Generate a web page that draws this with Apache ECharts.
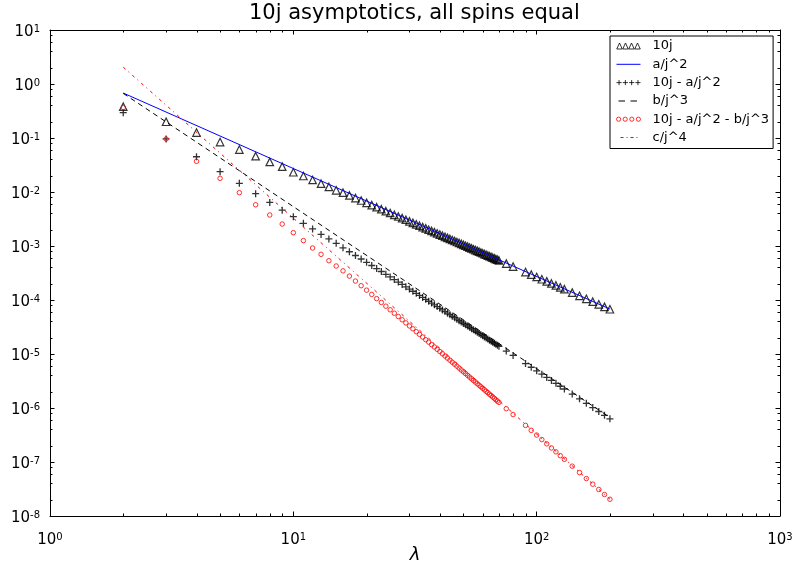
<!DOCTYPE html>
<html><head><meta charset="utf-8">
<script src="https://cdn.jsdelivr.net/npm/echarts@6/dist/echarts.min.js"></script>
<style>html,body{margin:0;padding:0;background:#fff}#c{width:795px;height:562px}</style>
</head><body><div id="c"></div>
<script>
// ---- data ----
const jVals = [2,3,4,5,6,7,8,9,10,11,12,13,14,15,16,17,18,19,20,21,22,23,24,25,26,27,28,29,30,
  31,32,33,34,35,36,37,38,39,40,41,42,43,44,45,46,47,48,49,50,51,52,53,54,55,56,57,58,59,60,
  61,62,63,64,65,66,67,68,69,70,75,80,90,95,100,105,110,115,120,125,130,140,150,160,170,180,190,200];

const tenJ = [0.38,0.20,0.126,0.084,0.061,0.046,0.036,0.0295,0.0232,0.0198,0.0167,0.01426,0.0124,0.01075,
  0.0097,0.00863,0.00773,0.00696,0.0063,0.00573,0.00524,0.0048,0.00442,0.00409,0.00378,0.00352,0.00328,0.00306,0.00286,
  0.00269,0.00252,0.00238,0.00224,0.00212,0.0020,0.0019,0.0018,0.00171,0.00163,
  1.553e-3,1.481e-3,1.414e-3,1.352e-3,1.293e-3,1.238e-3,1.187e-3,1.139e-3,1.094e-3,1.051e-3,
  1.011e-3,9.73e-4,9.37e-4,9.03e-4,8.71e-4,8.41e-4,8.12e-4,7.85e-4,7.59e-4,7.34e-4,
  7.10e-4,6.88e-4,6.66e-4,6.46e-4,6.27e-4,6.08e-4,5.90e-4,5.73e-4,5.57e-4,5.41e-4,
  4.72e-4,4.16e-4,3.29e-4,2.96e-4,2.67e-4,2.425e-4,2.211e-4,2.025e-4,1.86e-4,1.716e-4,1.587e-4,
  1.37e-4,1.194e-4,1.05e-4,9.31e-5,8.31e-5,7.46e-5,6.74e-5];

const tenJminusA = [0.294,0.096,0.045,0.0238,0.0145,0.0093,0.0064,0.0046,0.00349,0.00263,0.00207,0.00164,0.00135,0.00112,
  9.24e-4,7.82e-4,6.67e-4,5.75e-4,4.98e-4,4.35e-4,3.82e-4,3.37e-4,2.99e-4,2.67e-4,2.39e-4,2.15e-4,1.94e-4,1.755e-4,1.595e-4,
  1.453e-4,1.328e-4,1.216e-4,1.117e-4,1.028e-4,9.49e-5,8.77e-5,8.13e-5,7.55e-5,7.02e-5,
  6.54e-5,6.10e-5,5.70e-5,5.34e-5,5.00e-5,4.70e-5,4.41e-5,4.15e-5,3.91e-5,3.69e-5,
  3.49e-5,3.30e-5,3.12e-5,2.95e-5,2.80e-5,2.66e-5,2.53e-5,2.40e-5,2.28e-5,2.18e-5,
  2.07e-5,1.98e-5,1.89e-5,1.80e-5,1.72e-5,1.65e-5,1.58e-5,1.51e-5,1.45e-5,1.39e-5,
  1.135e-5,9.4e-6,6.66e-6,5.68e-6,4.885e-6,4.23e-6,3.69e-6,3.24e-6,2.86e-6,2.53e-6,2.25e-6,
  1.81e-6,1.477e-6,1.22e-6,1.019e-6,8.61e-7,7.33e-7,6.30e-7];

const tenJminusAB = [0.365,0.096,0.037,0.0179,0.0097,0.0058,0.00375,0.00255,0.001765,0.00126,9.18e-4,7.01e-4,5.34e-4,4.26e-4,
  3.46e-4,2.77e-4,2.24e-4,1.84e-4,1.52e-4,1.27e-4,1.06e-4,9.01e-5,7.69e-5,6.59e-5,5.69e-5,4.94e-5,4.30e-5,3.77e-5,3.31e-5,
  2.93e-5,2.59e-5,2.31e-5,2.06e-5,1.84e-5,1.66e-5,1.49e-5,1.35e-5,1.22e-5,1.11e-5,
  1.01e-5,9.18e-6,8.39e-6,7.68e-6,7.04e-6,6.47e-6,5.95e-6,5.49e-6,5.07e-6,4.69e-6,
  4.34e-6,4.03e-6,3.74e-6,3.48e-6,3.24e-6,3.03e-6,2.82e-6,2.64e-6,2.47e-6,2.32e-6,
  2.17e-6,2.04e-6,1.92e-6,1.80e-6,1.70e-6,1.60e-6,1.51e-6,1.42e-6,1.34e-6,1.27e-6,
  9.71e-7,7.55e-7,4.76e-7,3.85e-7,3.15e-7,2.60e-7,2.17e-7,1.82e-7,1.54e-7,1.31e-7,1.12e-7,
  8.37e-8,6.38e-8,4.94e-8,3.89e-8,3.10e-8,2.50e-8,2.04e-8];

// fitted asymptotic lines (end points)
const lineJ = [2, 200];
const aOverJ2 = [0.68, 6.8e-5];
const bOverJ3 = [0.67, 6.7e-7];
const cOverJ4 = [2.05, 2.05e-8];

// axes
const X_MIN = 1, X_MAX = 1000, Y_MIN = 1e-8, Y_MAX = 10;
const xDecades = [1, 10, 100];
const xMinorSubs = [2,3,4,5,6,7,8,9];
const yDecades = [1e-8,1e-7,1e-6,1e-5,1e-4,1e-3,1e-2,1e-1,1];
const yMinorSubs = [2,4,6,8];

const seriesNames = ['10j','a/j^2','10j - a/j^2','b/j^3','10j - a/j^2 - b/j^3','c/j^4'];

// ---- build ----
const pairs = (xs, ys) => xs.map((x, i) => [x, ys[i]]);
const minorData = [];
xDecades.forEach(d => xMinorSubs.forEach(s => minorData.push([s * d, 1, 0])));
yDecades.forEach(d => yMinorSubs.forEach(s => minorData.push([2, s * d, 1])));

const FONT = 'DejaVu Sans';
const supRich = {
  b: {fontSize: 15, fontFamily: FONT, color: '#000', lineHeight: 16},
  s: {fontSize: 10, fontFamily: FONT, color: '#000', lineHeight: 10, verticalAlign: 'top'}
};
const powLabel = v => '{b|10}{s|' + Math.round(Math.log10(v)) + '}';

function renderMinor(params, api) {
  const kind = api.value(2);
  const L = 2.5;
  const st = {stroke: '#000', lineWidth: 1};
  if (kind === 0) {
    const xv = api.value(0);
    const b = api.coord([xv, Y_MIN]);
    const t = api.coord([xv, Y_MAX]);
    const x = Math.round(b[0]) + 0.5;
    return {type: 'group', children: [
      {type: 'line', shape: {x1: x, y1: b[1], x2: x, y2: b[1] - L}, style: st},
      {type: 'line', shape: {x1: x, y1: t[1], x2: x, y2: t[1] + L}, style: st}
    ]};
  } else {
    const yv = api.value(1);
    const l = api.coord([X_MIN, yv]);
    const r = api.coord([X_MAX, yv]);
    const y = Math.round(l[1]) + 0.5;
    return {type: 'group', children: [
      {type: 'line', shape: {x1: l[0], y1: y, x2: l[0] + L, y2: y}, style: st},
      {type: 'line', shape: {x1: r[0], y1: y, x2: r[0] - L, y2: y}, style: st}
    ]};
  }
}

const axisLineStyle = {show: true, onZero: false, lineStyle: {color: '#000', width: 1}};
const tickStyle = {show: true, inside: true, length: 4.5, lineStyle: {color: '#000', width: 1}};

const triIcon = 'path://M0,6L2.75,0L5.5,6ZM6,6L8.75,0L11.5,6ZM12,6L14.75,0L17.5,6ZM18,6L20.75,0L23.5,6Z';
const plusIcon = 'path://M0,3L5,3M2.5,0.5L2.5,5.5M6.2,3L11.2,3M8.7,0.5L8.7,5.5M12.4,3L17.4,3M14.9,0.5L14.9,5.5M18.6,3L23.6,3M21.1,0.5L21.1,5.5';
const circIcon = 'path://M1,3A2,2 0 1,0 5,3A2,2 0 1,0 1,3ZM7.3,3A2,2 0 1,0 11.3,3A2,2 0 1,0 7.3,3ZM13.6,3A2,2 0 1,0 17.6,3A2,2 0 1,0 13.6,3ZM19.9,3A2,2 0 1,0 23.9,3A2,2 0 1,0 19.9,3Z';
const solidIcon = 'path://M0,0L24,0L24,1L0,1Z';
const dashIcon = 'path://M0,0L0,0M2,0L8.5,0L8.5,1L2,1ZM14,0L20.5,0L20.5,1L14,1ZM24,1L24,1';
const dashDotIcon = 'path://M0,0L0,0M4,0L7,0L7,1L4,1ZM10,0L11,0L11,1L10,1ZM14,0L17,0L17,1L14,1ZM20,0L21,0L21,1L20,1ZM24,1L24,1';

const option = {
  animation: false,
  backgroundColor: '#fff',
  title: {
    text: '10j asymptotics, all spins equal',
    left: 249, top: 3, padding: 0,
    textStyle: {fontFamily: FONT, fontSize: 21, fontWeight: 'normal', color: '#000'}
  },
  grid: {left: 50, top: 30, width: 730, height: 486, containLabel: false, outerBoundsMode: 'none'},
  legend: {
    orient: 'vertical', left: 610, top: 36,
    padding: [3, 4, 4, 6], itemGap: 4.3,
    itemWidth: 24, itemHeight: 6,
    borderColor: '#000', borderWidth: 1, backgroundColor: '#fff',
    selectedMode: false,
    textStyle: {fontFamily: FONT, fontSize: 13, color: '#000', lineHeight: 14, padding: [0, 0, 0, 7]},
    data: [
      {name: seriesNames[0], icon: triIcon, itemStyle: {color: 'rgba(0,0,0,0)', borderColor: '#000', borderWidth: 1}},
      {name: seriesNames[1], icon: solidIcon, itemStyle: {color: '#0000ff', borderWidth: 0}},
      {name: seriesNames[2], icon: plusIcon, itemStyle: {color: 'rgba(0,0,0,0)', borderColor: '#000', borderWidth: 1}},
      {name: seriesNames[3], icon: dashIcon, itemStyle: {color: '#000', borderWidth: 0}},
      {name: seriesNames[4], icon: circIcon, itemStyle: {color: 'rgba(0,0,0,0)', borderColor: '#ff0000', borderWidth: 1}},
      {name: seriesNames[5], icon: dashDotIcon, itemStyle: {color: '#ff0000', borderWidth: 0}}
    ]
  },
  xAxis: [
    {type: 'log', logBase: 10, min: X_MIN, max: X_MAX, position: 'bottom',
     axisLine: axisLineStyle, axisTick: tickStyle, splitLine: {show: false},
     axisLabel: {formatter: powLabel, rich: supRich, margin: 16, showMinLabel: true, showMaxLabel: true},
     name: 'λ', nameLocation: 'middle', nameGap: 30, nameMoveOverlap: false,
     nameTextStyle: {fontFamily: FONT, fontStyle: 'italic', fontSize: 18, lineHeight: 18, color: '#000'}},
    {type: 'log', logBase: 10, min: X_MIN, max: X_MAX, position: 'top',
     axisLine: axisLineStyle, axisTick: tickStyle, splitLine: {show: false}, axisLabel: {show: false}}
  ],
  yAxis: [
    {type: 'log', logBase: 10, min: Y_MIN, max: Y_MAX, position: 'left',
     axisLine: axisLineStyle, axisTick: tickStyle, splitLine: {show: false},
     axisLabel: {formatter: powLabel, rich: supRich, margin: 10, padding: [5, 0, 0, 0], showMinLabel: true, showMaxLabel: true}},
    {type: 'log', logBase: 10, min: Y_MIN, max: Y_MAX, position: 'right',
     axisLine: axisLineStyle, axisTick: tickStyle, splitLine: {show: false}, axisLabel: {show: false}}
  ],
  series: [
    {name: seriesNames[0], type: 'scatter', data: pairs(jVals, tenJ), symbol: 'triangle', symbolSize: 7.5,
     itemStyle: {color: 'rgba(0,0,0,0)', borderColor: '#000', borderWidth: 1.2}, silent: true},
    {name: seriesNames[1], type: 'line', data: pairs(lineJ, aOverJ2), showSymbol: false, symbol: 'none',
     color: '#0000ff', lineStyle: {color: '#0000ff', width: 1}, silent: true},
    {name: seriesNames[2], type: 'scatter', data: pairs(jVals, tenJminusA), symbol: 'path://M0,5L10,5M5,0L5,10', symbolSize: 7,
     itemStyle: {color: 'rgba(0,0,0,0)', borderColor: '#000', borderWidth: 1.3}, silent: true},
    {name: seriesNames[3], type: 'line', data: pairs(lineJ, bOverJ3), showSymbol: false, symbol: 'none',
     color: '#000', lineStyle: {color: '#000', width: 1, type: [5, 4]}, silent: true},
    {name: seriesNames[4], type: 'scatter', data: pairs(jVals, tenJminusAB), symbol: 'circle', symbolSize: 4.5,
     itemStyle: {color: 'rgba(0,0,0,0)', borderColor: '#ff0000', borderWidth: 1}, silent: true},
    {name: seriesNames[5], type: 'line', data: pairs(lineJ, cOverJ4), showSymbol: false, symbol: 'none',
     color: '#ff0000', lineStyle: {color: '#ff0000', width: 1, type: [3, 4, 1, 4]}, silent: true},
    {name: 'minorTicks', type: 'custom', data: minorData, renderItem: renderMinor,
     encode: {x: 0, y: 1}, clip: false, silent: true, z: 5}
  ]
};

const chart = echarts.init(document.getElementById('c'), null, {renderer: 'canvas'});
chart.setOption(option);
</script>
</body></html>
